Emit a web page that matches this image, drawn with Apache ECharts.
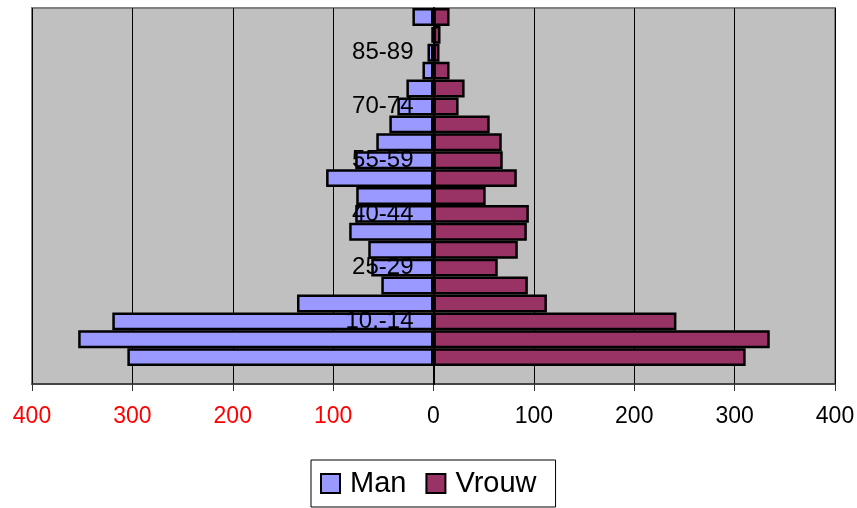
<!DOCTYPE html>
<html>
<head>
<meta charset="utf-8">
<script src="https://cdn.jsdelivr.net/npm/echarts@6/dist/echarts.min.js"></script>
<style>
  html, body { margin: 0; padding: 0; background: #ffffff; }
  #chart { width: 857px; height: 508px; }
</style>
</head>
<body>
<div id="chart"></div>
<script>
// Age groups, bottom to top (the bottom slot is empty in the original chart)
const categories = ['', '0-4', '5-9', '10.-14', '15-19', '20-24', '25-29', '30-34', '35-39', '40-44', '45-49',
  '50-54', '55-59', '60-64', '65-69', '70-74', '75-79', '80-84', '85-89', '90-94', '95+'];
const manValues = [null, 305, 354, 320, 136, 52, 62, 65, 84, 78, 77, 107, 78, 57, 44, 36, 27, 11, 6, 2, 21];
const vrouwValues = [null, 311, 335, 242, 113, 94, 64, 84, 93, 95, 52, 83, 69, 68, 56, 25, 31, 16, 6, 7, 16];
const xTicks = [-400, -300, -200, -100, 0, 100, 200, 300, 400];

const FONT = '"Liberation Sans", Arial, sans-serif';
const chart = echarts.init(document.getElementById('chart'), null, { renderer: 'canvas' });

const GRID_LEFT = 32, GRID_RIGHT = 22;
const plotWidth = 857 - GRID_LEFT - GRID_RIGHT;

chart.setOption({
  animation: false,
  backgroundColor: '#ffffff',
  textStyle: { fontFamily: FONT },
  grid: {
    left: GRID_LEFT, right: GRID_RIGHT, top: 8, bottom: 124,
    containLabel: false,
    outerBoundsMode: 'none',
    show: true,
    backgroundColor: '#c0c0c0',
    borderColor: '#808080',
    borderWidth: 2
  },
  legend: {
    left: 311, top: 460,
    padding: [9, 19, 9, 9],
    borderColor: '#000000',
    borderWidth: 1,
    itemWidth: 19, itemHeight: 19,
    itemGap: 19,
    icon: 'rect',
    textStyle: { fontSize: 29, color: '#000000', fontFamily: FONT, padding: [0, 0, 0, 5] },
    data: ['Man', 'Vrouw']
  },
  xAxis: {
    type: 'value',
    min: xTicks[0], max: xTicks[xTicks.length - 1], interval: 100,
    axisLine: { show: true, onZero: false, lineStyle: { color: '#333333', width: 1.5 } },
    axisTick: { show: true, length: 7, lineStyle: { color: '#333333', width: 1 } },
    splitLine: { show: true, lineStyle: { color: '#000000', width: 1 } },
    axisLabel: {
      fontSize: 23,
      fontFamily: FONT,
      margin: 21,
      formatter: v => String(Math.abs(v)),
      color: v => (Number(v) < 0 ? '#ff0000' : '#000000')
    }
  },
  yAxis: {
    type: 'category',
    data: categories,
    z: 10,
    offset: -plotWidth / 2,
    axisLine: { show: true, onZero: false, lineStyle: { color: '#000000', width: 2 } },
    axisTick: { show: false },
    splitLine: { show: false },
    axisLabel: {
      fontSize: 24,
      fontFamily: FONT,
      color: '#000000',
      margin: 20,
      interval: (i) => i % 3 === 0 && i > 0
    }
  },
  series: [
    {
      name: 'Man',
      type: 'bar',
      stack: 'pyr',
      barCategoryGap: '0%',
      data: manValues.map(v => (v === null ? null : -v)),
      itemStyle: { color: '#9999ff', borderColor: '#000000', borderWidth: 2.5 }
    },
    {
      name: 'Vrouw',
      type: 'bar',
      stack: 'pyr',
      barCategoryGap: '0%',
      data: vrouwValues,
      itemStyle: { color: '#993366', borderColor: '#000000', borderWidth: 2.5 }
    }
  ]
});
</script>
</body>
</html>
